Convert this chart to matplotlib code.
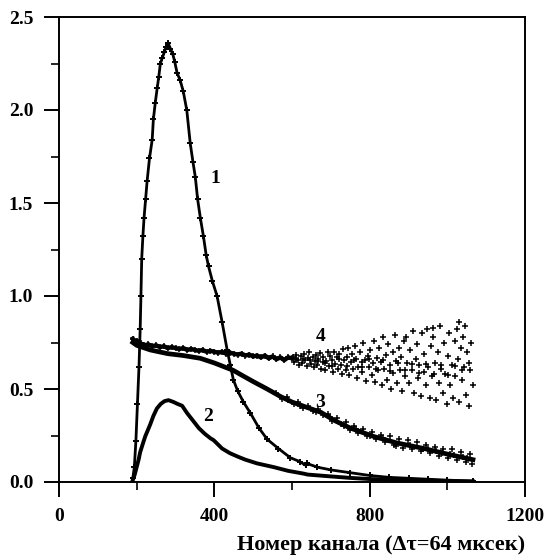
import matplotlib
matplotlib.use("Agg")
import matplotlib.pyplot as plt

# ---- data -------------------------------------------------------------
c1_x = [190, 194, 198, 202, 206, 209, 211, 213, 216, 219, 223, 227, 233, 240, 243, 248,
        253, 257, 261, 266, 271, 276, 281, 287, 293, 298, 304, 312, 320, 329, 338, 345,
        351, 357, 364, 372, 379, 385, 395, 407, 420, 433, 441, 449, 460, 475, 493, 515,
        536, 565, 596, 620, 635, 638, 665, 700, 750, 800, 850, 900, 950, 1000, 1066]
c1_y = [0.02, 0.08, 0.22, 0.42, 0.62, 0.82, 1.00, 1.20, 1.32, 1.42, 1.52, 1.62, 1.74,
        1.84, 1.95, 2.04, 2.12, 2.18, 2.25, 2.28, 2.31, 2.34, 2.36, 2.33, 2.30, 2.26,
        2.20, 2.16, 2.10, 2.00, 1.82, 1.72, 1.64, 1.52, 1.42, 1.32, 1.22, 1.16, 1.08,
        1.00, 0.86, 0.71, 0.63, 0.55, 0.49, 0.43, 0.37, 0.29, 0.23, 0.18, 0.13, 0.11,
        0.09, 0.10, 0.08, 0.065, 0.05, 0.035, 0.025, 0.02, 0.015, 0.01, 0.005]

c2_x = [190, 195, 200, 205, 209, 215, 222, 229, 235, 243, 252, 262, 272, 282, 295, 305,
        317, 330, 345, 360, 375, 390, 398, 403, 420, 440, 462, 480, 510, 553, 590, 630,
        640, 700, 750, 800, 850, 900, 950, 1000, 1066]
c2_y = [0.01, 0.04, 0.08, 0.12, 0.16, 0.20, 0.245, 0.28, 0.31, 0.355, 0.395, 0.42, 0.435,
        0.44, 0.43, 0.42, 0.41, 0.37, 0.33, 0.29, 0.26, 0.235, 0.225, 0.215, 0.18, 0.155,
        0.135, 0.12, 0.10, 0.08, 0.06, 0.045, 0.04, 0.03, 0.022, 0.016, 0.012, 0.009,
        0.007, 0.005, 0.003]

c3_x = [190, 200, 235, 280, 320, 364, 400, 449, 470, 500, 536, 570, 600, 640, 674, 710,
        750, 810, 870, 940, 1000, 1066]
c3_y = [0.75, 0.735, 0.71, 0.69, 0.68, 0.665, 0.64, 0.60, 0.575, 0.54, 0.50, 0.46, 0.43,
        0.40, 0.375, 0.33, 0.29, 0.245, 0.21, 0.18, 0.15, 0.12]

c3s_x = [560, 575, 590, 605, 615, 628, 642, 655, 668, 680, 692, 703, 715, 726, 738, 749,
         760, 771, 783, 794, 806, 817, 829, 840, 852, 863, 875, 886, 898, 909, 921, 932,
         944, 955, 967, 978, 990, 1001, 1013, 1024, 1036, 1047, 1059, 1064,
         586, 620, 661, 699, 733, 766, 801, 835, 869, 903, 937, 972, 1006, 1040, 1050,
         1017, 985, 950]
c3s_y = [0.48, 0.445, 0.44, 0.42, 0.43, 0.40, 0.41, 0.38, 0.39, 0.36, 0.365, 0.33, 0.345,
         0.31, 0.325, 0.28, 0.30, 0.265, 0.285, 0.245, 0.27, 0.23, 0.255, 0.215, 0.245,
         0.20, 0.23, 0.185, 0.225, 0.175, 0.215, 0.165, 0.20, 0.155, 0.19, 0.14, 0.18,
         0.13, 0.175, 0.12, 0.16, 0.105, 0.15, 0.095,
         0.455, 0.41, 0.375, 0.35, 0.30, 0.285, 0.25, 0.235, 0.195, 0.20, 0.18, 0.165,
         0.15, 0.135, 0.13, 0.145, 0.155, 0.175]

c4_x = [190, 195, 200, 210, 220, 230, 240, 250, 260, 270, 280, 290, 300, 310, 320, 330,
        340, 350, 360, 370, 380, 390, 400, 410, 420, 430, 440, 450, 460, 470, 480, 490,
        500, 510, 520, 530, 540, 550, 560, 570, 580, 590, 600]
c4_y = [0.77, 0.745, 0.76, 0.745, 0.735, 0.74, 0.73, 0.735, 0.725, 0.73, 0.72, 0.725,
        0.72, 0.715, 0.72, 0.71, 0.715, 0.71, 0.705, 0.71, 0.70, 0.705, 0.70, 0.695, 0.70,
        0.69, 0.695, 0.69, 0.685, 0.69, 0.68, 0.685, 0.675, 0.68, 0.67, 0.68, 0.665, 0.675,
        0.66, 0.67, 0.655, 0.67, 0.665]

c4s_x = [602, 606, 611, 615, 619, 622, 626, 631, 634, 638, 641, 645, 649, 653, 657, 659,
         661, 664, 668, 672, 675, 679, 681, 685, 688, 692, 695, 699, 702, 705, 709, 712,
         716, 719, 721, 725, 728, 732, 735, 739, 741, 744, 748, 751, 755, 758, 761, 764,
         768, 771, 775, 779, 781, 784, 788, 791, 795, 798, 801, 805, 808, 812, 815, 819,
         821, 824, 828, 831, 835, 838, 841, 845, 848, 852, 855, 859, 861, 864, 868, 871,
         875, 878, 881, 884, 888, 891, 893, 897, 901, 904, 908, 911, 915, 919, 921, 924,
         928, 931, 935, 939, 941, 944, 948, 951, 955, 959, 961, 964, 968, 971, 975, 979,
         981, 984, 988, 991, 995, 999, 1001, 1004, 1008, 1011, 1015, 1019, 1021, 1024,
         1028, 1031, 1035, 1039, 1041, 1044, 1048, 1051, 1055, 1059, 1062, 1065,
         610, 628, 647, 666, 684, 703, 722, 741, 760, 779, 797, 816, 834, 853, 872, 890,
         909, 927, 946, 965, 983, 1002, 1020, 1039, 1057, 1030, 962, 1045]
c4s_y = [0.67, 0.645, 0.685, 0.655, 0.63, 0.675, 0.64, 0.69, 0.655, 0.625, 0.665, 0.70,
         0.635, 0.67, 0.62, 0.65, 0.685, 0.63, 0.66, 0.695, 0.61, 0.645, 0.67, 0.60, 0.65,
         0.70, 0.625, 0.68, 0.655, 0.59, 0.70, 0.635, 0.67, 0.61, 0.69, 0.63, 0.58, 0.715,
         0.655, 0.60, 0.67, 0.72, 0.575, 0.645, 0.69, 0.61, 0.73, 0.66, 0.56, 0.62, 0.70,
         0.645, 0.59, 0.75, 0.655, 0.545, 0.68, 0.62, 0.71, 0.575, 0.64, 0.76, 0.535, 0.665,
         0.60, 0.72, 0.645, 0.52, 0.78, 0.61, 0.685, 0.55, 0.74, 0.63, 0.50, 0.70, 0.585,
         0.79, 0.65, 0.53, 0.72, 0.60, 0.67, 0.49, 0.76, 0.57, 0.78, 0.64, 0.53, 0.71, 0.60,
         0.81, 0.48, 0.66, 0.74, 0.56, 0.63, 0.46, 0.80, 0.59, 0.69, 0.52, 0.82, 0.62, 0.45,
         0.73, 0.57, 0.78, 0.64, 0.44, 0.70, 0.53, 0.84, 0.61, 0.48, 0.75, 0.58, 0.42, 0.68,
         0.80, 0.52, 0.63, 0.45, 0.76, 0.57, 0.82, 0.66, 0.43, 0.72, 0.55, 0.78, 0.62, 0.47,
         0.70, 0.41, 0.60, 0.75, 0.52,
         0.66, 0.66, 0.655, 0.65, 0.64, 0.625, 0.66, 0.625, 0.655, 0.62, 0.66, 0.61, 0.655,
         0.595, 0.64, 0.60, 0.635, 0.585, 0.635, 0.58, 0.63, 0.575, 0.625, 0.60, 0.64, 0.86,
         0.83, 0.84]

curve_labels = ["1", "2", "3", "4"]
label_pos_x = [403, 385, 673, 673]
label_pos_y = [1.63, 0.35, 0.43, 0.78]

x_ticks = [0, 400, 800, 1200]
x_minor = [200, 600, 1000]
y_ticks = [0.0, 0.5, 1.0, 1.5, 2.0, 2.5]
y_minor = [0.25, 0.75, 1.25, 1.75, 2.25]
x_label = "Номер канала (Δτ=64 мксек)"

# ---- figure -----------------------------------------------------------
plt.rcParams['font.family'] = ['Liberation Serif', 'DejaVu Serif']
plt.rcParams['font.weight'] = 'bold'

fig = plt.figure(figsize=(5.47, 5.56), dpi=100)
ax = fig.add_axes([59 / 547, 1 - 482 / 556, 466 / 547, 465 / 556])

k = 'black'
ax.plot(c1_x, c1_y, color=k, lw=2.0, marker='+', ms=5, mew=1.4)
ax.plot(c2_x, c2_y, color=k, lw=2.8)
ax.plot(c3_x, c3_y, color=k, lw=3.4)
ax.plot(c3s_x, c3s_y, ls='none', color=k, marker='+', ms=4, mew=1.1)
ax.plot(c4_x, c4_y, color=k, lw=3.2, marker='+', ms=4, mew=1.1)
ax.plot(c4s_x, c4s_y, ls='none', color=k, marker='+', ms=4, mew=1.1)

for t, lx, ly in zip(curve_labels, label_pos_x, label_pos_y):
    ax.text(lx, ly, t, fontsize=14, fontweight='bold', ha='center', va='center')

ax.set_xlim(0, 1200)
ax.set_ylim(0, 2.5)
ax.set_xticks(x_ticks)
ax.set_xticks(x_minor, minor=True)
ax.set_yticks(y_ticks)
ax.set_yticks(y_minor, minor=True)
ax.set_yticklabels([f"{v:.1f}" for v in y_ticks])
ax.tick_params(axis='both', which='major', direction='out', length=10.5, width=1.4,
               labelsize=14, pad=8)
ax.tick_params(axis='both', which='minor', direction='out', length=6, width=1.2)
for lab in ax.get_xticklabels() + ax.get_yticklabels():
    lab.set_fontweight('bold')
for s in ax.spines.values():
    s.set_linewidth(1.4)

ax.set_xlabel(x_label, fontsize=16, fontweight='bold')
ax.xaxis.set_label_coords((381 - 59) / 466, -0.115)

fig.savefig("out.png", dpi=100)
